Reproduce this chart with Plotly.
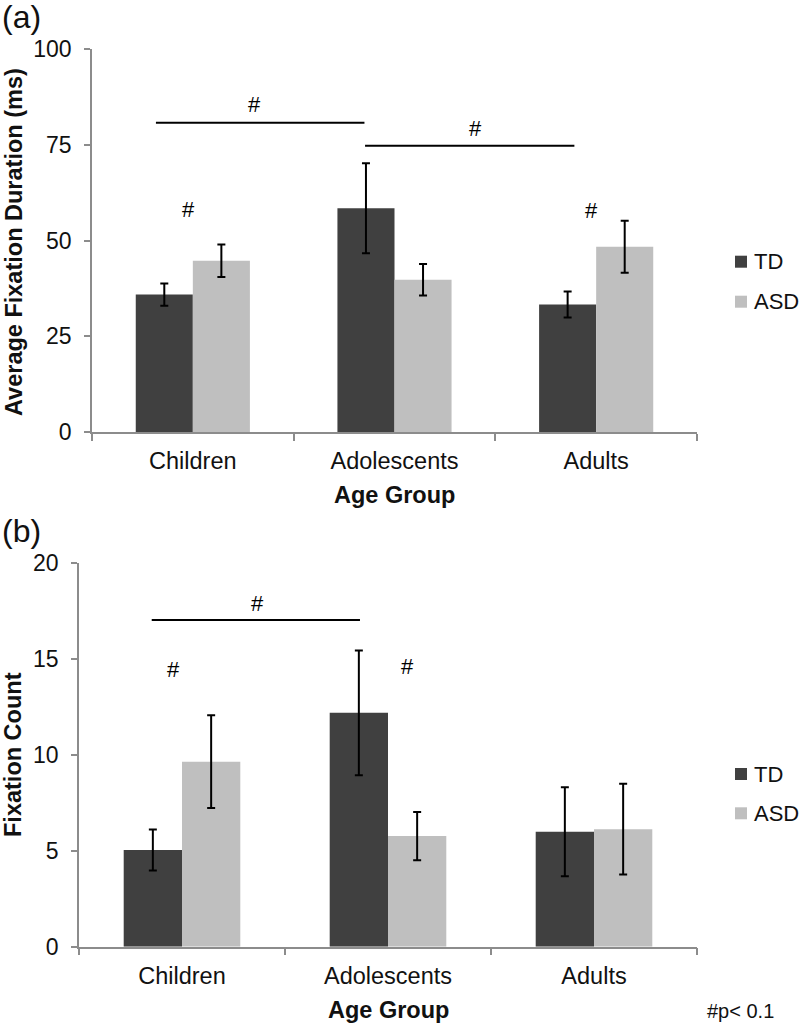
import plotly.graph_objects as go

# ---------------- data ----------------
categories = ["Children", "Adolescents", "Adults"]
series_names = ["TD", "ASD"]

# (a) Average fixation duration (ms)
dur_td = [35.9, 58.45, 33.3]
dur_td_err = [2.9, 11.75, 3.4]
dur_asd = [44.75, 39.8, 48.4]
dur_asd_err = [4.25, 4.1, 6.8]

# (b) Fixation count
cnt_td = [5.05, 12.2, 6.0]
cnt_td_err = [1.07, 3.25, 2.32]
cnt_asd = [9.65, 5.77, 6.13]
cnt_asd_err = [2.42, 1.26, 2.37]

dur_ticks = [0, 25, 50, 75, 100]
cnt_ticks = [0, 5, 10, 15, 20]

# significance markers: (x0, x1, y) brackets and (x, y) '#' labels, in category-index units
dur_brackets = [(-0.183, 0.851, 80.8), (0.854, 1.892, 74.8)]
dur_marks = [(0.304, 85.6), (1.40, 79.3), (-0.02, 58.2), (1.975, 58.0)]
cnt_brackets = [(-0.147, 0.864, 17.04)]
cnt_marks = [(0.366, 17.9), (-0.039, 14.47), (1.094, 14.6)]

# ---------------- style ----------------
C_TD = "#404040"
C_ASD = "#bfbfbf"
AXC = "#8c8c8c"
TXT = "#111111"
FONT = "Liberation Sans"
W, H = 800, 1023

fig = go.Figure()

def add_bars(td, td_err, asd, asd_err, xa, ya):
    for name, vals, errs, col in [("TD", td, td_err, C_TD), ("ASD", asd, asd_err, C_ASD)]:
        fig.add_trace(go.Bar(
            x=categories, y=vals, name=name, xaxis=xa, yaxis=ya,
            marker=dict(color=col, line=dict(width=0)),
            error_y=dict(type="data", array=errs, visible=True,
                         color="#000000", thickness=2, width=4),
            showlegend=False,
        ))

add_bars(dur_td, dur_td_err, dur_asd, dur_asd_err, "x", "y")
add_bars(cnt_td, cnt_td_err, cnt_asd, cnt_asd_err, "x2", "y2")

def px_x(p):
    return p / W

def px_y(p):
    return 1 - p / H

xcommon = dict(showline=True, linecolor=AXC, linewidth=1.5, ticks="outside",
               tickson="boundaries", ticklen=7, tickcolor=AXC, tickwidth=1.5,
               showgrid=False, zeroline=False, automargin=False,
               tickfont=dict(family=FONT, size=23.5, color=TXT),
               ticklabelstandoff=7, fixedrange=True)
ycommon = dict(showline=True, linecolor=AXC, linewidth=1.5, ticks="outside",
               ticklen=6, tickcolor=AXC, tickwidth=1.5, showgrid=False,
               zeroline=False, automargin=False,
               tickfont=dict(family=FONT, size=23, color=TXT),
               ticklabelstandoff=8, fixedrange=True)

fig.update_layout(
    width=W, height=H,
    margin=dict(l=0, r=0, t=0, b=0),
    paper_bgcolor="white", plot_bgcolor="white",
    barmode="group", bargap=0.434, bargroupgap=0,
    xaxis=dict(domain=[px_x(92), px_x(697)], anchor="y", **xcommon),
    yaxis=dict(domain=[px_y(432), px_y(49.3)], anchor="x", range=[0, 100],
               tickvals=dur_ticks, **ycommon),
    xaxis2=dict(domain=[px_x(79), px_x(697)], anchor="y2", **xcommon),
    yaxis2=dict(domain=[px_y(946.7), px_y(563.3)], anchor="x2", range=[0, 20],
                tickvals=cnt_ticks, **ycommon),
    showlegend=False,
    font=dict(family=FONT, color=TXT),
)

shapes = []
annots = []
for (x0, x1, y) in dur_brackets:
    shapes.append(dict(type="line", xref="x", yref="y", x0=x0, x1=x1, y0=y, y1=y,
                       line=dict(color="#000000", width=2)))
for (x0, x1, y) in cnt_brackets:
    shapes.append(dict(type="line", xref="x2", yref="y2", x0=x0, x1=x1, y0=y, y1=y,
                       line=dict(color="#000000", width=2)))
for (x, y) in dur_marks:
    annots.append(dict(text="#", x=x, y=y, xref="x", yref="y", showarrow=False,
                       font=dict(family=FONT, size=22, color="#000000"),
                       xanchor="center", yanchor="middle"))
for (x, y) in cnt_marks:
    annots.append(dict(text="#", x=x, y=y, xref="x2", yref="y2", showarrow=False,
                       font=dict(family=FONT, size=22, color="#000000"),
                       xanchor="center", yanchor="middle"))

# axis titles
annots += [
    dict(text="<b>Average Fixation Duration (ms)</b>", x=px_x(14), y=px_y(242),
         xref="paper", yref="paper", textangle=-90, showarrow=False,
         font=dict(family=FONT, size=23.5, color=TXT), xanchor="center", yanchor="middle"),
    dict(text="<b>Fixation Count</b>", x=px_x(13), y=px_y(755),
         xref="paper", yref="paper", textangle=-90, showarrow=False,
         font=dict(family=FONT, size=23.5, color=TXT), xanchor="center", yanchor="middle"),
    dict(text="<b>Age Group</b>", x=px_x(394.5), y=px_y(495),
         xref="paper", yref="paper", showarrow=False,
         font=dict(family=FONT, size=23.5, color=TXT), xanchor="center", yanchor="middle"),
    dict(text="<b>Age Group</b>", x=px_x(388), y=px_y(1010),
         xref="paper", yref="paper", showarrow=False,
         font=dict(family=FONT, size=23.5, color=TXT), xanchor="center", yanchor="middle"),
    dict(text="(a)", x=0, y=px_y(17), xref="paper", yref="paper", showarrow=False,
         font=dict(family=FONT, size=32, color=TXT), xanchor="left", yanchor="middle"),
    dict(text="(b)", x=0, y=px_y(531), xref="paper", yref="paper", showarrow=False,
         font=dict(family=FONT, size=32, color=TXT), xanchor="left", yanchor="middle"),
    dict(text="#p< 0.1", x=px_x(740), y=px_y(1011), xref="paper", yref="paper",
         showarrow=False, font=dict(family=FONT, size=20, color=TXT),
         xanchor="center", yanchor="middle"),
]

# legends (one per panel)
for cy_list in ([261.7, 301.7], [774, 813.3]):
    for name, col, cy in zip(series_names, [C_TD, C_ASD], cy_list):
        shapes.append(dict(type="rect", xref="paper", yref="paper",
                           x0=px_x(735), x1=px_x(747), y0=px_y(cy + 6), y1=px_y(cy - 6),
                           fillcolor=col, line=dict(width=0)))
        annots.append(dict(text=name, x=px_x(752), y=px_y(cy), xref="paper", yref="paper",
                           showarrow=False, font=dict(family=FONT, size=22, color=TXT),
                           xanchor="left", yanchor="middle"))

fig.update_layout(shapes=shapes, annotations=annots)
fig.write_html(
    "out.html",
    config={"displayModeBar": False},
    post_script="document.body.style.margin='0';document.body.style.padding='0';"
                "document.body.style.overflow='hidden';"
                "document.documentElement.style.overflow='hidden';",
)
